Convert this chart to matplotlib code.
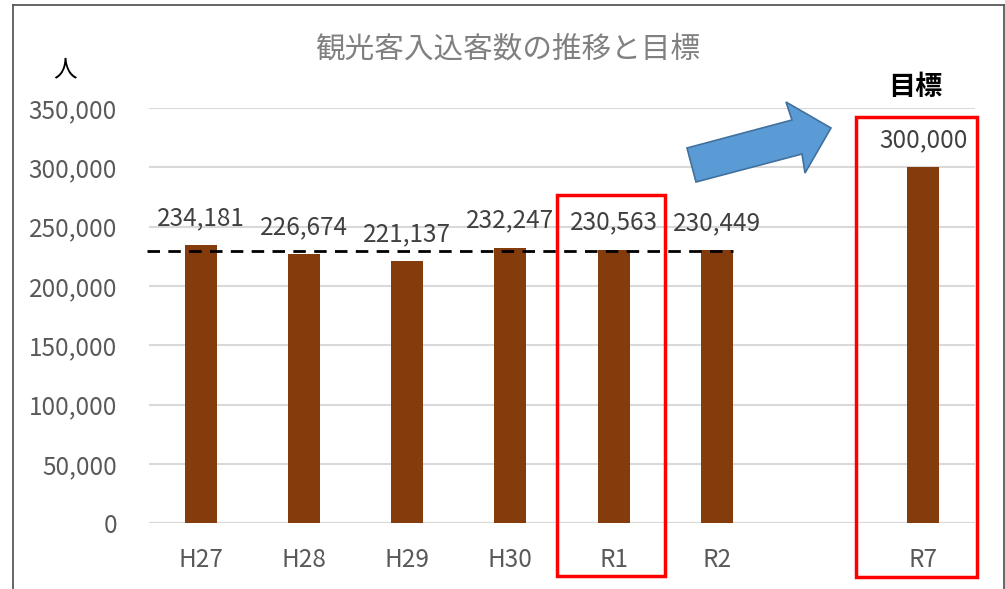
import matplotlib
matplotlib.use("Agg")
import matplotlib.pyplot as plt
from matplotlib.patches import Polygon, Rectangle
from matplotlib.lines import Line2D
import numpy as np

plt.rcParams['font.family'] = ['Noto Sans CJK JP', 'DejaVu Sans']

categories = ["H27", "H28", "H29", "H30", "R1", "R2", "", "R7"]
values = [234181, 226674, 221137, 232247, 230563, 230449, None, 300000]
value_labels = ["234,181", "226,674", "221,137", "232,247", "230,563", "230,449", "", "300,000"]
yticks = [0, 50000, 100000, 150000, 200000, 250000, 300000, 350000]
ytick_labels = ["0", "50,000", "100,000", "150,000", "200,000", "250,000", "300,000", "350,000"]
title = "観光客入込客数の推移と目標"
unit_label = "人"
target_label = "目標"

W, H = 1005, 589
fig = plt.figure(figsize=(W / 100, H / 100), dpi=100)
ax = fig.add_axes([149 / W, 1 - 523.3 / H, (975 - 149) / W, (523.3 - 108) / H])

x = np.arange(len(categories))
bx = [i for i, v in zip(x, values) if v is not None]
bv = [v for v in values if v is not None]
ax.bar(bx, bv, width=0.31, color="#843C0C", zorder=3)

ax.set_xlim(-0.5, len(categories) - 0.5)
ax.set_ylim(0, 350000)
ax.set_yticks(yticks)
ax.set_yticklabels(ytick_labels)
ax.set_xticks(x)
ax.set_xticklabels(categories)
ax.tick_params(axis='both', length=0, labelsize=17.5, colors="#595959")
ax.tick_params(axis='y', pad=23)
ax.tick_params(axis='x', pad=17)
ax.grid(axis='y', color="#D9D9D9", linewidth=1.5, zorder=0)
for s in ax.spines.values():
    s.set_visible(False)
ax.axhline(0, color="#D9D9D9", linewidth=1.5, zorder=1)

# data labels
for i, v, lab in zip(x, values, value_labels):
    if v is None:
        continue
    ax.annotate(lab, (i, v), xytext=(0, 19.5), textcoords="offset points",
                ha="center", va="center", fontsize=17.5, color="#404040", zorder=5)

# average dashed line
avg = np.mean([v for v in values[:6]])
ax.plot([-0.52, 5.16], [avg, avg], color="black", linestyle=(0, (4.5, 3)),
        linewidth=2, zorder=4, clip_on=False)

# title and labels
fig.text(508 / W, 1 - 49 / H, title, ha="center", va="center", fontsize=21.3, color="#808080")
fig.text(65 / W, 1 - 70 / H, unit_label, ha="center", va="center", fontsize=17, color="black")
fig.text(915 / W, 1 - 87 / H, target_label, ha="center", va="center", fontsize=19.5,
         color="black", fontweight="bold")

# red boxes
def fig_rect(x0, y0, x1, y1, **kw):
    r = Rectangle((x0 / W, 1 - y1 / H), (x1 - x0) / W, (y1 - y0) / H,
                  transform=fig.transFigure, fill=False, **kw)
    fig.patches.append(r)

fig_rect(557, 195, 665, 576, edgecolor="#FF0000", linewidth=2.5)
fig_rect(856, 117, 977, 577, edgecolor="#FF0000", linewidth=2.5)

# arrow
pts = [(687, 148), (792, 120), (786, 102), (831, 128), (805, 173), (802, 154), (696, 182)]
arrow = Polygon([(px / W, 1 - py / H) for px, py in pts], closed=True,
                transform=fig.transFigure, facecolor="#5B9BD5", edgecolor="#41719C",
                linewidth=1.2)
fig.patches.append(arrow)

# outer frame
fc = "#595959"
fig.lines.append(Line2D([13 / W, 13 / W], [0, 1 - 5 / H], transform=fig.transFigure, color=fc, linewidth=1.3))
fig.lines.append(Line2D([13 / W, 1003.5 / W], [1 - 5 / H, 1 - 5 / H], transform=fig.transFigure, color=fc, linewidth=1.3))
fig.lines.append(Line2D([1003.5 / W, 1003.5 / W], [0, 1 - 5 / H], transform=fig.transFigure, color=fc, linewidth=1.3))

fig.savefig("out.png", dpi=100)
